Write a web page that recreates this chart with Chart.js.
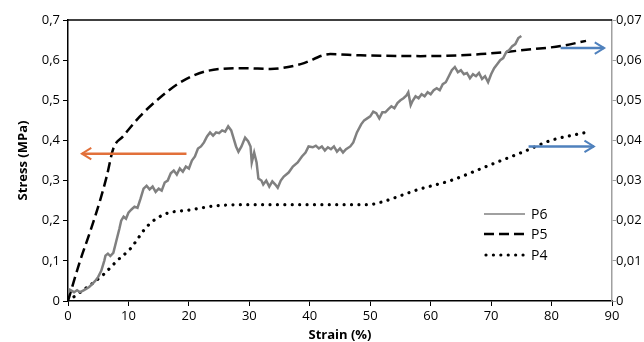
<!DOCTYPE html>
<html>
<head>
<meta charset="utf-8">
<script src="https://cdn.jsdelivr.net/npm/chart.js@4/dist/chart.umd.min.js"></script>
<style>
  body { margin: 0; background: #fff; }
  #chart { display: block; }
</style>
</head>
<body>
<canvas id="chart" width="644" height="342"></canvas>
<script>
// Series: strain (%) vs stress (MPa)
const seriesNames = ["P6", "P5", "P4"];

const p6Strain = [0, 0.3, 1, 1.5, 2, 2.5, 3, 3.5, 4, 4.5, 5, 5.5, 6, 6.2, 6.6, 7, 7.5, 8, 8.5, 8.8,
  9.2, 9.6, 10, 10.5, 11, 11.5, 12, 12.5, 13, 13.5, 14, 14.5, 15, 15.5, 16, 16.5, 17, 17.5, 18, 18.5,
  19, 19.5, 20, 20.5, 21, 21.5, 22, 22.5, 23, 23.5, 24, 24.5, 25, 25.5, 26, 26.5, 27, 27.3, 27.8, 28.2,
  28.7, 29.3, 29.8, 30.2, 30.4, 30.8, 31.2, 31.5, 32, 32.3, 32.8, 33.3, 33.8, 34.3, 34.7, 35.2, 35.7, 36.5, 37.2, 38,
  38.7, 39.3, 39.8, 40.5, 41, 41.5, 42, 42.5, 43, 43.5, 44, 44.5, 45, 45.5, 46, 46.7, 47.2, 47.8, 48.5, 49,
  49.5, 50, 50.5, 51, 51.5, 52, 52.5, 53, 53.5, 54, 54.5, 55, 55.5, 56, 56.3, 56.7, 57, 57.5, 58, 58.5,
  59, 59.5, 60, 60.5, 61, 61.5, 62, 62.5, 63, 63.5, 64, 64.5, 65, 65.5, 66, 66.5, 67, 67.5, 68, 68.5,
  69, 69.5, 70, 70.5, 71, 71.5, 72, 72.5, 73, 73.5, 74, 74.5, 75];
const p6Stress = [0.02, 0.028, 0.022, 0.027, 0.022, 0.026, 0.03, 0.035, 0.042, 0.05, 0.06, 0.075, 0.1, 0.113, 0.118, 0.112, 0.12, 0.15, 0.18, 0.2,
  0.21, 0.205, 0.22, 0.228, 0.235, 0.232, 0.255, 0.28, 0.287, 0.278, 0.285, 0.272, 0.28, 0.275, 0.295, 0.3, 0.318, 0.325, 0.315, 0.33,
  0.322, 0.335, 0.33, 0.35, 0.36, 0.38, 0.385, 0.395, 0.41, 0.42, 0.412, 0.42, 0.418, 0.425, 0.422, 0.435, 0.425, 0.41, 0.385, 0.372,
  0.385, 0.407, 0.398, 0.385, 0.345, 0.37, 0.345, 0.305, 0.3, 0.29, 0.3, 0.285, 0.298, 0.29, 0.282, 0.3, 0.31, 0.32, 0.335, 0.345,
  0.36, 0.37, 0.385, 0.383, 0.387, 0.38, 0.385, 0.375, 0.383, 0.378, 0.385, 0.372, 0.38, 0.37, 0.378, 0.385, 0.395, 0.42, 0.44, 0.45,
  0.455, 0.46, 0.472, 0.468, 0.455, 0.47, 0.47, 0.478, 0.485, 0.48, 0.493, 0.5, 0.505, 0.512, 0.52, 0.488, 0.498, 0.51, 0.505, 0.515,
  0.51, 0.52, 0.515, 0.525, 0.53, 0.525, 0.54, 0.545, 0.56, 0.575, 0.583, 0.57, 0.575, 0.565, 0.568, 0.555, 0.565, 0.56, 0.568, 0.553,
  0.56, 0.545, 0.565, 0.58, 0.59, 0.6, 0.605, 0.62, 0.625, 0.635, 0.64, 0.655, 0.66];

const p5Strain = [0, 2, 3.6, 5.3, 6.4, 7.5, 9.1, 11.9, 14.7, 18.6, 23, 29.3, 33.5, 38.5, 43.4, 48.4, 58.3, 68.3, 76.6, 81.5, 85.7];
const p5Stress = [0, 0.1, 0.17, 0.25, 0.31, 0.38, 0.41, 0.46, 0.5, 0.545, 0.573, 0.58, 0.578, 0.59, 0.615, 0.612, 0.61, 0.615, 0.627, 0.635, 0.648];

const p4Strain = [0, 2.5, 5.8, 8.1, 10.3, 13.1, 15.8, 20.2, 25, 30, 40, 49.6, 52, 55.5, 57.8, 63.3, 70, 75.4, 79.9, 85.7];
const p4Stress = [0, 0.027, 0.065, 0.1, 0.13, 0.186, 0.215, 0.227, 0.238, 0.24, 0.24, 0.24, 0.247, 0.265, 0.277, 0.3, 0.34, 0.372, 0.4, 0.42];

// Axis ranges
const strainTicks = { min: 0, max: 90, step: 10 };
const stressTicks = { min: 0, max: 0.7, step: 0.1 };
const stressRightTicks = { min: 0, max: 0.07, step: 0.01 };

// Arrows pointing to the axes, in data units of the left scale
const arrows = [
  { from: [19.6, 0.367], to: [2.3, 0.367], color: "#e2703a" },
  { from: [81.5, 0.63], to: [88.7, 0.63], color: "#4f81bd" },
  { from: [76.2, 0.385], to: [87.0, 0.385], color: "#4f81bd" }
];

const FONT = "'Open Sans', 'DejaVu Sans', sans-serif";

function toPoints(xs, ys) {
  return xs.map((x, i) => ({ x: x, y: ys[i] }));
}

function commaLabel(digits) {
  return function (value) {
    if (Math.abs(value) < 1e-9) return "0";
    return Number(value).toFixed(digits).replace(".", ",");
  };
}

// frame top line, legend and arrows
const extras = {
  id: "extras",
  afterDatasetsDraw(chart) {
    const ctx = chart.ctx;
    const area = chart.chartArea;
    const xs = chart.scales.x;
    const ys = chart.scales.y;

    ctx.save();
    ctx.strokeStyle = "#000";
    ctx.lineWidth = 1.5;
    ctx.beginPath();
    ctx.moveTo(area.left, area.top);
    ctx.lineTo(area.right, area.top);
    ctx.stroke();

    // arrows
    arrows.forEach((a) => {
      const x1 = xs.getPixelForValue(a.from[0]);
      const y1 = ys.getPixelForValue(a.from[1]);
      const x2 = xs.getPixelForValue(a.to[0]);
      const y2 = ys.getPixelForValue(a.to[1]);
      const ang = Math.atan2(y2 - y1, x2 - x1);
      ctx.strokeStyle = a.color;
      ctx.lineWidth = 2.5;
      ctx.lineCap = "butt";
      ctx.setLineDash([]);
      ctx.beginPath();
      ctx.moveTo(x1, y1);
      ctx.lineTo(x2, y2);
      ctx.stroke();
      ctx.lineWidth = 2;
      ctx.beginPath();
      ctx.moveTo(x2 - 11 * Math.cos(ang - 0.55), y2 - 11 * Math.sin(ang - 0.55));
      ctx.lineTo(x2, y2);
      ctx.lineTo(x2 - 11 * Math.cos(ang + 0.55), y2 - 11 * Math.sin(ang + 0.55));
      ctx.stroke();
    });

    // legend
    const lx0 = 484, lx1 = 525, tx = 531;
    const rows = [214, 234, 255];
    chart.data.datasets.forEach((ds, i) => {
      const y = rows[i];
      ctx.strokeStyle = ds.borderColor;
      ctx.lineWidth = i === 0 ? 1.5 : ds.borderWidth;
      ctx.setLineDash(ds.borderDash || []);
      ctx.lineCap = ds.borderCapStyle || "butt";
      ctx.beginPath();
      ctx.moveTo(lx0 + (i === 2 ? 2 : 0), y);
      ctx.lineTo(lx1, y);
      ctx.stroke();
      ctx.setLineDash([]);
      ctx.fillStyle = "#000";
      ctx.font = "14px " + FONT;
      ctx.textBaseline = "middle";
      ctx.textAlign = "left";
      ctx.fillText(ds.label, tx, y + 1);
    });
    ctx.restore();
  }
};

new Chart(document.getElementById("chart"), {
  type: "line",
  data: {
    datasets: [
      {
        label: seriesNames[0],
        data: toPoints(p6Strain, p6Stress),
        borderColor: "#808080",
        borderWidth: 2.5,
        pointRadius: 0,
        tension: 0
      },
      {
        label: seriesNames[1],
        data: toPoints(p5Strain, p5Stress),
        borderColor: "#000",
        borderWidth: 2.5,
        borderDash: [10, 5],
        pointRadius: 0,
        cubicInterpolationMode: "monotone"
      },
      {
        label: seriesNames[2],
        data: toPoints(p4Strain, p4Stress),
        borderColor: "#000",
        borderWidth: 3.2,
        borderDash: [0.01, 7.4],
        borderCapStyle: "round",
        pointRadius: 0,
        cubicInterpolationMode: "monotone"
      }
    ]
  },
  options: {
    responsive: false,
    animation: false,
    devicePixelRatio: 1,
    layout: { padding: { top: 20, left: 0, right: 0, bottom: 0 } },
    plugins: { legend: { display: false }, tooltip: { enabled: false } },
    scales: {
      x: {
        type: "linear",
        min: strainTicks.min,
        max: strainTicks.max,
        afterFit(s) { s.height = 41; },
        ticks: { stepSize: strainTicks.step, color: "#000", padding: 2, font: { family: FONT, size: 13 }, maxRotation: 0 },
        grid: { drawOnChartArea: false, drawTicks: true, tickLength: 5, tickColor: "#000" },
        border: { color: "#000", width: 1.5 },
        title: { display: true, text: "Strain (%)", color: "#000", padding: 0, font: { family: FONT, size: 13, weight: "bold", lineHeight: 1 } }
      },
      y: {
        position: "left",
        min: stressTicks.min,
        max: stressTicks.max,
        afterFit(s) { s.width = 68; },
        ticks: { stepSize: stressTicks.step, color: "#000", padding: 3, font: { family: FONT, size: 13 }, callback: commaLabel(1) },
        grid: { drawOnChartArea: false, drawTicks: true, tickLength: 5, tickColor: "#000" },
        border: { color: "#000", width: 1.5 },
        title: { display: true, text: "Stress (MPa)", color: "#000", padding: { top: 17, bottom: 0 }, font: { family: FONT, size: 13, weight: "bold", lineHeight: 1 } }
      },
      y1: {
        position: "right",
        display: true,
        min: stressRightTicks.min,
        max: stressRightTicks.max,
        afterFit(s) { s.width = 32; },
        ticks: { stepSize: stressRightTicks.step, color: "#000", padding: 0, font: { family: FONT, size: 13 }, callback: commaLabel(2) },
        grid: { drawOnChartArea: false, drawTicks: true, tickLength: 4, tickColor: "#a0a0a0" },
        border: { color: "#a0a0a0", width: 1.5 }
      }
    }
  },
  plugins: [extras]
});
</script>
</body>
</html>
